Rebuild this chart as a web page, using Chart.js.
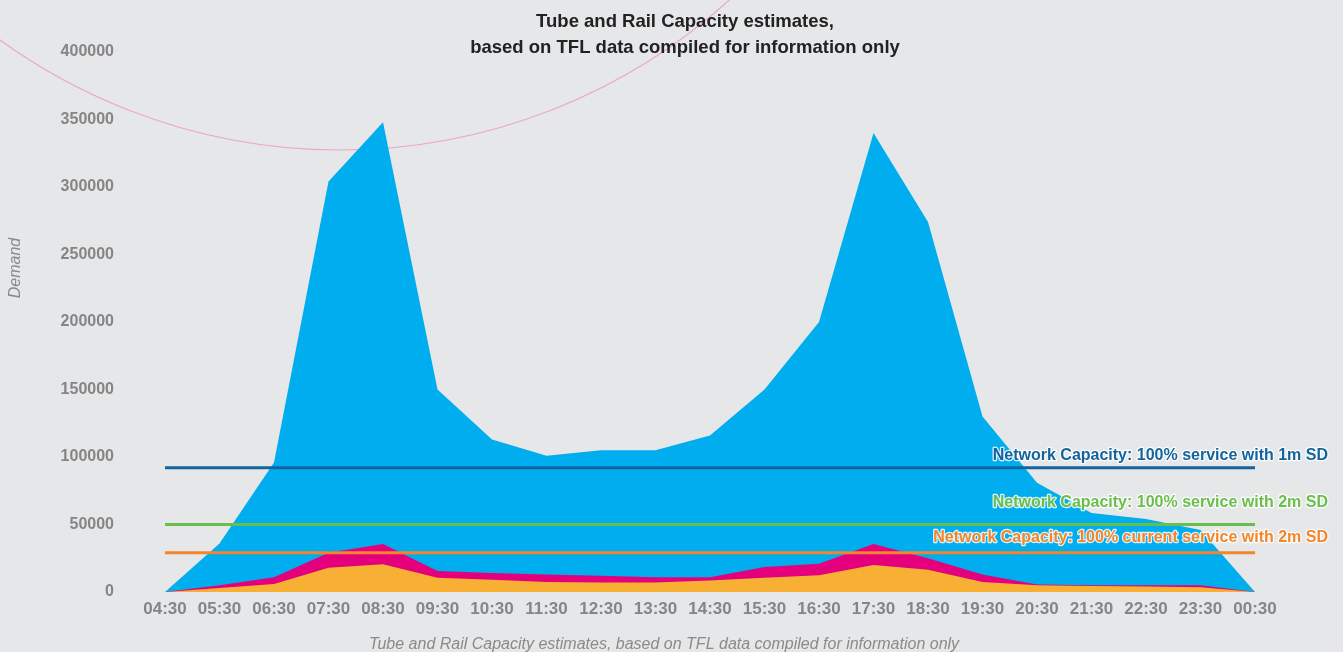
<!DOCTYPE html>
<html>
<head>
<meta charset="utf-8">
<script src="https://cdn.jsdelivr.net/npm/chart.js@4"></script>
<style>
  body { margin: 0; background: #e6e7e9; }
  canvas { display: block; }
</style>
</head>
<body>
<canvas id="capacityChart" width="1343" height="652"></canvas>
<script>
// Tube and Rail demand vs network capacity
var timeLabels = ['04:30', '05:30', '06:30', '07:30', '08:30', '09:30', '10:30', '11:30', '12:30', '13:30', '14:30',
  '15:30', '16:30', '17:30', '18:30', '19:30', '20:30', '21:30', '22:30', '23:30', '00:30'];
var demandTotal = [0, 36000, 96000, 304000, 348000, 150000, 113000, 101000, 105000, 105000, 116000,
  150000, 200000, 340000, 274000, 130000, 81000, 58500, 54000, 46000, 0];
var demandMid = [0, 5000, 11000, 29000, 35500, 15500, 14000, 13000, 12000, 11000, 11000,
  18500, 21000, 35500, 25000, 13000, 5500, 5000, 5000, 5000, 0];
var demandLow = [0, 3000, 6000, 18000, 20500, 10500, 9000, 7500, 7000, 7000, 8500,
  10500, 12500, 20000, 16500, 7500, 5000, 4500, 4000, 3500, 0];

var cap1mSD = 92000;
var cap2mSD = 50000;
var capCurrent2mSD = 29000;

var capLines = [
  { value: cap1mSD, color: '#13649e', text: 'Network Capacity: 100% service with 1m SD', dy: -12 },
  { value: cap2mSD, color: '#6abf4b', text: 'Network Capacity: 100% service with 2m SD', dy: -22 },
  { value: capCurrent2mSD, color: '#f3862b', text: 'Network Capacity: 100% current service with 2m SD', dy: -15 }
];

function capLine(v) {
  return [{ x: timeLabels[0], y: v }, { x: timeLabels[timeLabels.length - 1], y: v }];
}

var textPlugin = {
  id: 'texts',
  beforeDatasetsDraw: function(chart) {
    var c = chart.ctx;
    c.save();
    c.strokeStyle = 'rgba(236,160,196,0.9)';
    c.lineWidth = 1.2;
    c.beginPath();
    c.arc(340, -430, 580, 0, Math.PI);
    c.stroke();
    c.restore();
  },
  afterDatasetsDraw: function(chart) {
    var c = chart.ctx;
    var y = chart.scales.y;
    c.save();
    c.font = 'bold 16px "Liberation Sans", Arial, sans-serif';
    c.textAlign = 'right';
    c.textBaseline = 'middle';
    c.lineJoin = 'round';
    capLines.forEach(function(l) {
      var py = y.getPixelForValue(l.value) + l.dy;
      c.strokeStyle = 'rgba(255,255,255,0.85)';
      c.lineWidth = 2.5;
      c.strokeText(l.text, 1328, py);
      c.fillStyle = l.color;
      c.fillText(l.text, 1328, py);
    });

    // title
    c.textAlign = 'center';
    c.fillStyle = '#222';
    c.font = 'bold 18.5px "Liberation Sans", Arial, sans-serif';
    c.fillText('Tube and Rail Capacity estimates,', 685, 22);
    c.fillText('based on TFL data compiled for information only', 685, 48);

    // axis titles
    c.fillStyle = '#8a8a8a';
    c.font = 'italic 16px "Liberation Sans", Arial, sans-serif';
    c.fillText('Tube and Rail Capacity estimates, based on TFL data compiled for information only', 664, 645);
    c.translate(16, 268);
    c.rotate(-Math.PI / 2);
    c.fillText('Demand', 0, 0);
    c.restore();
  }
};

var ctx = document.getElementById('capacityChart').getContext('2d');
var capacityChart = new Chart(ctx, {
  type: 'line',
  data: {
    labels: timeLabels,
    datasets: [
      { label: 'Demand', data: demandTotal, backgroundColor: '#00adee', borderWidth: 0, fill: 'origin', pointRadius: 0, tension: 0, order: 3 },
      { label: 'Demand 2', data: demandMid, backgroundColor: '#e4007c', borderWidth: 0, fill: 'origin', pointRadius: 0, tension: 0, order: 2 },
      { label: 'Demand 3', data: demandLow, backgroundColor: '#f7b033', borderWidth: 0, fill: 'origin', pointRadius: 0, tension: 0, order: 1 },
      { label: capLines[0].text, data: capLine(cap1mSD), borderColor: capLines[0].color, borderWidth: 3, fill: false, pointRadius: 0, order: 0 },
      { label: capLines[1].text, data: capLine(cap2mSD), borderColor: capLines[1].color, borderWidth: 3, fill: false, pointRadius: 0, order: 0 },
      { label: capLines[2].text, data: capLine(capCurrent2mSD), borderColor: capLines[2].color, borderWidth: 3, fill: false, pointRadius: 0, order: 0 }
    ]
  },
  options: {
    responsive: false,
    animation: false,
    layout: { padding: { top: 52, right: 88, left: 0, bottom: 0 } },
    plugins: {
      legend: { display: false },
      tooltip: { enabled: false }
    },
    scales: {
      x: {
        grid: { display: false, drawTicks: false },
        border: { display: false },
        ticks: {
          color: '#858585', padding: 7, maxRotation: 0, autoSkip: false,
          font: { family: '"Liberation Sans", Arial, sans-serif', size: 17, weight: 'bold' }
        },
        afterFit: function(s) { s.height = 60; }
      },
      y: {
        min: 0,
        max: 400000,
        grid: { display: false, drawTicks: false },
        border: { display: false },
        ticks: {
          stepSize: 50000, color: '#858585', padding: 51,
          callback: function(v) { return String(v); },
          font: { family: '"Liberation Sans", Arial, sans-serif', size: 16, weight: 'bold' }
        },
        afterFit: function(s) { s.width = 165; s.paddingTop = 0; s.paddingBottom = 0; }
      }
    }
  },
  plugins: [textPlugin]
});
</script>
</body>
</html>
